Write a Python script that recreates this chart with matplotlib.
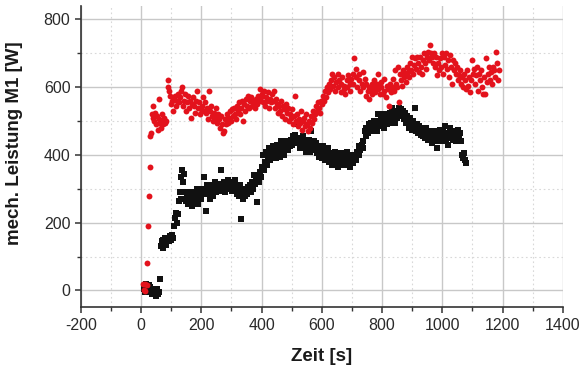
import matplotlib
matplotlib.use("Agg")
import matplotlib.pyplot as plt
from matplotlib.ticker import MultipleLocator

plt.rcParams['font.family'] = ['Liberation Sans', 'DejaVu Sans']
plt.rcParams['axes.unicode_minus'] = False

# Red series (circles): time [s], power [W]
red_t = [5, 8, 12, 14, 18, 20, 23, 25, 28, 30, 33, 36, 38, 40, 43, 46, 50, 53, 55, 58, 60, 63, 66, 68, 70, 73, 76, 80, 84, 88,
         90, 93, 96, 100, 103, 106, 110, 113, 116, 120, 123, 126, 130, 133, 136, 139, 142, 145, 148, 152, 155, 158, 162, 165, 168,
         172, 175, 178, 182, 185, 188, 192, 195, 198, 202, 205, 208, 212, 215, 218, 222, 225, 228, 232, 235, 238, 242, 245, 248,
         252, 255, 258, 262, 265, 268, 272, 275, 278, 282, 285, 288, 292, 295, 298, 302, 305, 308, 312, 315, 318, 322, 325, 328,
         332, 335, 338, 342, 345, 348, 352, 355, 358, 362, 365, 368, 372, 375, 378, 382, 385, 388, 392, 395, 398, 402, 405, 408,
         412, 415, 418, 422, 425, 428, 432, 435, 438, 442, 445, 448, 452, 455, 458, 462, 465, 468, 472, 475, 478, 482, 485, 488,
         492, 495, 498, 502, 505, 508, 512, 515, 518, 522, 525, 528, 532, 535, 538, 542, 545, 548, 552, 555, 558, 562, 565, 568,
         572, 575, 578, 582, 585, 588, 592, 595, 598, 602, 605, 608, 612, 615, 618, 622, 625, 628, 632, 635, 638, 642, 645, 648,
         652, 655, 658, 662, 665, 668, 672, 675, 678, 682, 685, 688, 692, 695, 698, 702, 705, 708, 712, 715, 718, 722, 725, 728,
         732, 735, 738, 742, 745, 748, 752, 755, 758, 762, 765, 768, 772, 775, 778, 782, 785, 788, 792, 795, 798, 802, 805, 808,
         812, 815, 818, 822, 825, 828, 832, 835, 838, 842, 845, 848, 852, 855, 858, 862, 865, 868, 872, 875, 878, 882, 885, 888,
         892, 895, 898, 902, 905, 908, 912, 915, 918, 922, 925, 928, 932, 935, 938, 942, 945, 948, 952, 955, 958, 962, 965, 968,
         972, 975, 978, 982, 985, 988, 992, 995, 998, 1002, 1005, 1008, 1012, 1015, 1018, 1022, 1025, 1028, 1032, 1035, 1038,
         1042, 1045, 1048, 1052, 1055, 1058, 1062, 1065, 1068, 1072, 1075, 1078, 1082, 1085, 1088, 1092, 1095, 1098, 1102, 1105,
         1108, 1112, 1115, 1118, 1122, 1125, 1128, 1132, 1135, 1138, 1142, 1145, 1148, 1152, 1155, 1158, 1162, 1165, 1168, 1172,
         1175, 1178, 1182, 1185, 1188]
red_p = [20, 0, 18, -2, 15, 80, 190, 280, 365, 455, 465, 520, 545, 510, 500, 525, 490, 515, 475, 505, 565, 495, 480, 520, 500, 490, 510, 495, 500, 600,
         620, 590, 575, 550, 560, 530, 565, 575, 545, 560, 580, 555, 570, 590, 600, 545, 560, 580, 530, 555, 575, 540, 560, 510, 550,
         570, 545, 525, 560, 590, 540, 555, 520, 535, 545, 570, 530, 555, 525, 540, 505, 590, 530, 545, 515, 500, 525, 510, 540,
         495, 520, 505, 480, 515, 490, 465, 470, 505, 490, 520, 495, 510, 530, 500, 535, 515, 540, 520, 505, 545, 530, 555, 520,
         540, 560, 500, 550, 530, 565, 545, 575, 540, 560, 570, 545, 560, 555, 540, 565, 550, 575, 560, 595, 570, 580, 555, 590,
         545, 570, 560, 585, 540, 565, 555, 580, 560, 590, 540, 565, 550, 525, 545, 530, 560, 515, 545, 535, 505, 550, 525, 540,
         500, 520, 510, 535, 490, 515, 575, 500, 520, 485, 505, 495, 530, 475, 500, 510, 485, 520, 490, 470, 500, 480, 515, 495,
         530, 505, 520, 545, 530, 555, 540, 525, 560, 550, 575, 560, 590, 570, 600, 585, 610, 595, 620, 640, 605, 630, 590, 615,
         640, 600, 620, 585, 610, 630, 595, 605, 580, 620, 600, 635, 610, 590, 625, 640, 610, 685, 630, 655, 600, 620, 640, 590,
         610, 645, 600, 625, 575, 610, 590, 600, 565, 595, 610, 580, 620, 600, 585, 610, 640, 595, 580, 615, 600, 580, 625, 590,
         570, 605, 595, 545, 610, 585, 600, 625, 590, 650, 610, 600, 660, 555, 640, 620, 605, 650, 630, 640, 615, 660, 645, 630,
         670, 650, 690, 640, 665, 685, 655, 690, 670, 645, 690, 660, 640, 680, 700, 670, 655, 690, 705, 680, 725, 700, 690, 670,
         700, 660, 690, 635, 670, 650, 685, 660, 700, 640, 690, 665, 700, 655, 680, 630, 695, 660, 610, 680, 650,
         670, 640, 660, 620, 635, 650, 610, 630, 600, 640, 620, 595, 650, 605, 630, 585, 620, 680, 640, 655,
         610, 635, 660, 590, 640, 620, 650, 600, 580, 630, 580, 685, 615, 640, 660, 620, 645, 610, 660, 650,
         630, 705, 670, 620, 650]

# Black series (squares): time [s], power [W]
black_t = [10, 13, 16, 19, 22, 25, 28, 31, 34, 37, 40, 43, 46, 49, 52, 55, 58, 62, 65, 68, 71, 74, 77, 80, 84, 88, 92, 96, 100,
           103, 106, 110, 113, 116, 119, 122, 125, 128, 131, 134, 137, 140, 143, 146, 149, 152, 155, 158, 162, 165, 168, 172, 175,
           178, 182, 185, 188, 192, 195, 198, 202, 205, 208, 212, 215, 218, 222, 225, 228, 232, 235, 238, 242, 245, 248, 252, 255,
           258, 262, 265, 268, 272, 275, 278, 282, 285, 288, 292, 295, 298, 302, 305, 308, 312, 315, 318, 322, 325, 328, 332, 335,
           338, 342, 345, 348, 352, 355, 358, 362, 365, 368, 372, 375, 378, 382, 385, 388, 392, 395, 398, 402, 405, 408, 412, 415,
           418, 422, 425, 428, 432, 435, 438, 442, 445, 448, 452, 455, 458, 462, 465, 468, 472, 475, 478, 482, 485, 488, 492, 495,
           498, 502, 505, 508, 512, 515, 518, 522, 525, 528, 532, 535, 538, 542, 545, 548, 552, 555, 558, 562, 565, 568, 572, 575,
           578, 582, 585, 588, 592, 595, 598, 602, 605, 608, 612, 615, 618, 622, 625, 628, 632, 635, 638, 642, 645, 648, 652, 655,
           658, 662, 665, 668, 672, 675, 678, 682, 685, 688, 692, 695, 698, 702, 705, 708, 712, 715, 718, 722, 725, 728, 732, 735,
           738, 742, 745, 748, 752, 755, 758, 762, 765, 768, 772, 775, 778, 782, 785, 788, 792, 795, 798, 802, 805, 808, 812, 815,
           818, 822, 825, 828, 832, 835, 838, 842, 845, 848, 852, 855, 858, 862, 865, 868, 872, 875, 878, 882, 885, 888, 892, 895,
           898, 902, 905, 908, 912, 915, 918, 922, 925, 928, 932, 935, 938, 942, 945, 948, 952, 955, 958, 962, 965, 968, 972, 975,
           978, 982, 985, 988, 992, 995, 998, 1002, 1005, 1008, 1012, 1015, 1018, 1022, 1025, 1028, 1032, 1035, 1038, 1042, 1045,
           1048, 1052, 1055, 1058, 1062, 1065, 1068, 1072, 1075, 1078]
black_p = [5, -5, 20, 10, 0, 15, -5, 10, 0, -10, 5, -10, 0, -15, 5, -10, -5, 35, 130, 145, 125, 150, 140, 155, 135, 150, 145, 160, 150,
           165, 155, 190, 215, 230, 200, 225, 265, 290, 270, 335, 355, 320, 345, 290, 265, 280, 255, 270, 260, 290, 250, 275, 260,
           285, 265, 300, 255, 280, 290, 270, 300, 285, 335, 295, 235, 310, 285, 300, 270, 295, 310, 280, 300, 320, 290, 305, 315,
           295, 305, 355, 310, 300, 320, 290, 315, 305, 325, 300, 310, 320, 295, 315, 300, 325, 310, 285, 300, 280, 310, 210, 290,
           270, 295, 280, 300, 285, 305, 295, 310, 290, 320, 300, 340, 315, 330, 260, 340, 320, 350, 335, 365, 400, 355, 380, 410,
           370, 395, 420, 385, 410, 395, 425, 400, 415, 390, 430, 405, 420, 395, 440, 410, 425, 400, 430, 420, 440, 415, 435, 425,
           445, 430, 455, 440, 460, 435, 450, 490, 445, 420, 440, 430, 455, 425, 440, 410, 435, 420, 445, 410, 470, 430, 415, 440,
           420, 435, 405, 425, 395, 420, 410, 390, 425, 400, 385, 415, 395, 420, 380, 405, 390, 370, 400, 385, 410, 375, 395, 365,
           390, 405, 380, 400, 385, 370, 395, 410, 375, 390, 365, 400, 385, 395, 375, 400, 385, 395, 410, 400, 425, 415, 430, 420,
           440, 470, 455, 480, 465, 490, 475, 495, 470, 485, 500, 480, 495, 470, 500, 520, 485, 505, 490, 510, 480, 520, 500, 490,
           515, 495, 525, 505, 540, 500, 515, 495, 530, 510, 525, 540, 515, 535, 520, 530, 505, 525, 495, 515, 500, 480, 510, 490,
           475, 500, 485, 540, 470, 490, 465, 485, 470, 460, 480, 455, 470, 450, 480, 460, 445, 470, 450, 465, 435, 455, 470, 440,
           460, 420, 450, 440, 475, 455, 440, 470, 455, 485, 445, 465, 430, 460, 480, 450, 465, 445, 470, 455, 440,
           460, 475, 450, 465, 440, 400, 390, 405, 385, 375]

x_ticks = [-200, 0, 200, 400, 600, 800, 1000, 1200, 1400]
y_ticks = [0, 200, 400, 600, 800]

fig = plt.figure(figsize=(5.82, 3.69), dpi=100)
ax = fig.add_axes([0.139, 0.167, 0.828, 0.817])

ax.scatter(black_t, black_p, marker='s', s=15, color='#111111', linewidths=0, zorder=3)
ax.scatter(red_t, red_p, marker='o', s=18, color='#E3121C', linewidths=0, zorder=4)

ax.set_xlim(-200, 1400)
ax.set_ylim(-50, 840)
ax.set_xticks(x_ticks)
ax.set_yticks(y_ticks)
ax.xaxis.set_minor_locator(MultipleLocator(100))
ax.yaxis.set_minor_locator(MultipleLocator(100))

ax.grid(True, which='major', color='#c8c8c8', linewidth=1.0, zorder=0)
ax.grid(True, which='minor', color='#d8d8d8', linewidth=0.8, linestyle=(0, (1.5, 2.5)), zorder=0)
ax.set_axisbelow(True)

for side in ['top', 'right']:
    ax.spines[side].set_visible(False)
for side in ['left', 'bottom']:
    ax.spines[side].set_color('#333333')
    ax.spines[side].set_linewidth(1.2)

ax.tick_params(which='major', direction='out', length=4.5, width=1.1, color='#333333',
               labelsize=11.5, labelcolor='#2a2a2a', pad=3)
ax.tick_params(which='minor', direction='out', length=3, width=1.0, color='#333333')

ax.set_xlabel('Zeit [s]', fontsize=13.5, fontweight='bold', color='#1a1a1a')
ax.set_ylabel('mech. Leistung M1 [W]', fontsize=13.5, fontweight='bold', color='#1a1a1a')
ax.xaxis.set_label_coords(0.5, -0.135)
ax.yaxis.set_label_coords(-0.12, 0.545)

fig.savefig('out.png', dpi=100)
